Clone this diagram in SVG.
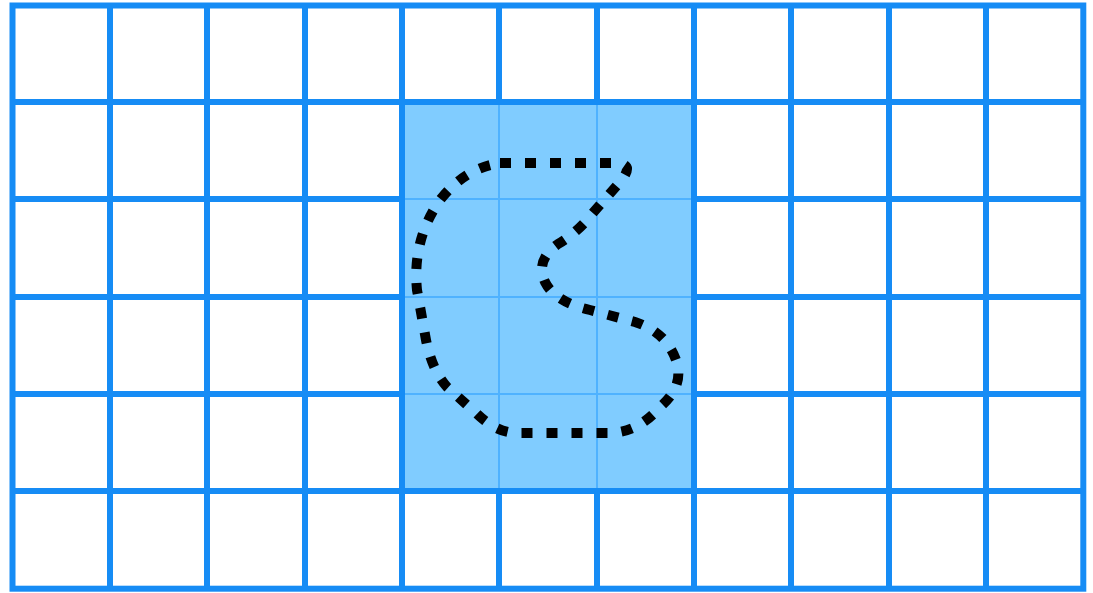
<svg xmlns="http://www.w3.org/2000/svg" width="1093" height="593" viewBox="0 0 1093 593">
<style>
.grid{stroke:#168cf5;stroke-width:6;fill:none}
.inner{stroke:#4fb2ff;stroke-width:2;fill:none}
.curve{stroke:#000;stroke-width:10;fill:none;stroke-dasharray:11 14}
</style>
<rect width="1093" height="593" fill="#fff"/>
<g id="shade">
<rect x="402" y="102" width="292" height="389" fill="#80ccff"/>
<path class="inner" d="M499 102V491M597 102V491M402 199H694M402 297H694M402 394H694"/>
</g>
<g id="grid" class="grid">
<rect x="12.5" y="5.5" width="1070.8" height="583.2"/>
<path d="M110 5.5V588.7M207 5.5V588.7M305 5.5V588.7M402 5.5V102M402 491V588.7M499 5.5V102M499 491V588.7M597 5.5V102M597 491V588.7M694 5.5V588.7M791 5.5V588.7M889 5.5V588.7M986 5.5V588.7"/>
<path d="M12.5 102H1083.3M12.5 199H402M694 199H1083.3M12.5 297H402M694 297H1083.3M12.5 394H402M694 394H1083.3M12.5 491H1083.3"/>
<path d="M402 102V491"/>
</g>
<g id="curve">
<path class="curve" d="M500 163 L615 163 Q636 163 620 182 L592 214 Q578 232 558 244 Q535 260 545 282 Q555 302 590 310 L635 322 Q666 332 676 360 Q685 386 660 407 Q638 433 608 433 L515 433 Q495 432 475 412 L447 387 Q432 370 426 340 L417 290 Q412 240 440 200 Q465 168 500 163 Z"/>
</g>
</svg>
